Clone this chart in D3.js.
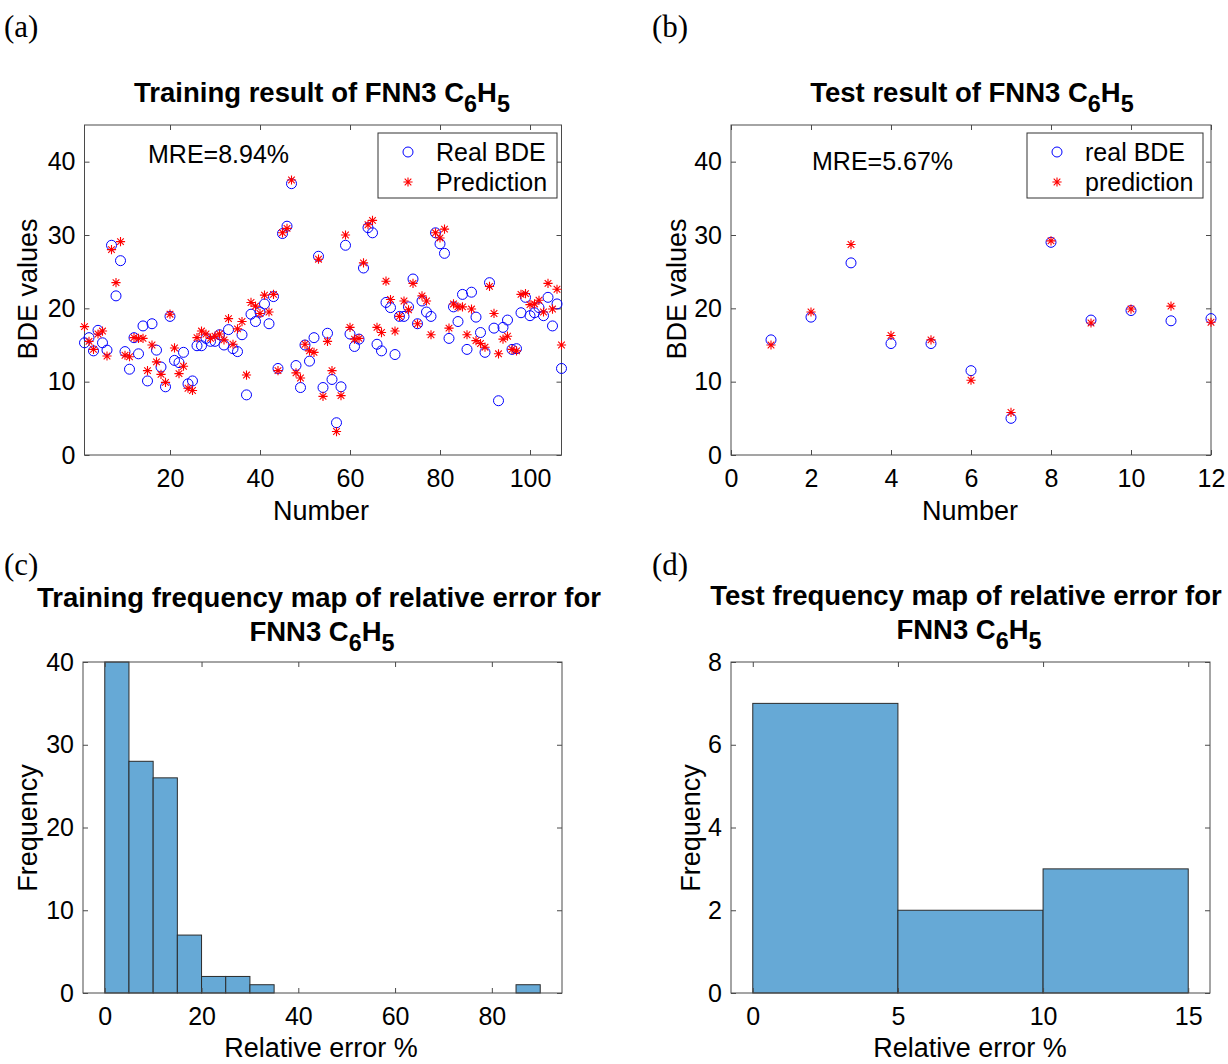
<!DOCTYPE html>
<html><head><meta charset="utf-8">
<script src="https://cdn.jsdelivr.net/npm/d3@7"></script>
<style>
body{margin:0;background:#fff;}
svg{display:block;}
text{font-family:"Liberation Sans",Arial,Helvetica,sans-serif;fill:#000;}
</style></head><body>
<svg id="chart" width="1228" height="1064"></svg>
<script>
// ---------------- data ----------------
const trainIndex = d3.range(1, 108);
const trainReal = [15.3,16.0,14.2,17.0,15.3,14.3,28.6,21.7,26.5,14.1,11.7,16.0,13.8,17.6,10.1,17.9,14.3,12.0,9.3,18.9,
  12.9,12.6,14.0,9.7,10.1,14.9,14.9,15.9,15.5,15.5,16.4,15.0,17.1,14.5,14.1,16.4,8.2,19.2,18.2,19.5,
  20.6,17.9,21.6,11.8,30.2,31.2,37.0,12.2,9.2,15.0,12.8,16.0,27.1,9.2,16.6,10.3,4.4,9.3,28.6,16.5,
  14.8,15.8,25.5,31.0,30.3,15.1,14.2,20.8,20.1,13.7,18.9,18.9,20.2,24.0,17.9,21.0,19.5,18.9,30.3,28.8,
  27.5,15.9,20.2,18.2,21.9,14.4,22.2,18.8,16.7,14.0,23.5,17.3,7.4,17.4,18.4,14.4,14.5,19.4,21.5,19.0,
  19.4,20.1,19.0,21.5,17.6,20.6,11.8];
const trainPred = [17.5,15.5,14.4,16.5,16.9,13.5,28.0,23.5,29.1,13.6,13.4,16.0,15.9,15.9,11.5,15.0,12.7,11.0,9.9,19.2,
  14.6,11.1,12.1,9.1,8.8,16.0,16.9,16.5,15.9,16.2,16.5,15.7,18.6,15.1,17.2,18.2,10.9,20.8,20.3,19.3,
  21.8,19.5,21.9,11.5,30.3,30.9,37.5,11.2,10.5,15.1,14.2,14.0,26.7,8.0,15.5,11.5,3.2,8.1,30.0,17.4,
  15.8,15.9,26.2,31.4,32.0,17.4,16.7,23.7,21.2,16.9,18.9,21.0,19.8,23.4,17.9,21.7,21.0,16.4,30.3,29.6,
  30.8,17.3,20.6,20.2,20.2,16.4,19.9,15.6,15.2,14.7,23.0,19.3,13.8,15.8,16.2,14.4,14.2,21.9,22.0,20.5,
  20.6,21.1,19.5,23.4,19.9,22.6,15.0];
const testIndex = d3.range(1, 13);
const testReal = [15.7,18.8,26.2,15.2,15.2,11.5,5.0,29.0,18.4,19.7,18.3,18.6];
const testPred = [15.0,19.5,28.7,16.3,15.7,10.2,5.8,29.2,18.0,19.9,20.3,18.1];

const trainBinEdges = d3.range(0, 95, 5);
const trainCounts = [40,28,26,7,2,2,1,0,0,0,0,0,0,0,0,0,0,1];
const testBinEdges = [0,5,10,15];
const testCounts = [7,2,3];

const ticksA_x = [20,40,60,80,100], ticksA_y = [0,10,20,30,40];
const ticksB_x = [0,2,4,6,8,10,12], ticksB_y = [0,10,20,30,40];
const ticksC_x = [0,20,40,60,80], ticksC_y = [0,10,20,30,40];
const ticksD_x = [0,5,10,15], ticksD_y = [0,2,4,6,8];

// ---------------- drawing ----------------
const svg = d3.select("#chart");
const axisCol = "#4a4a4a", tickTextCol = "#262626";
const TICK = 25, LABEL = 27, TITLE = 27.5;

function frame(x, y, xt, yt) {
  const [x0, x1] = x.range(), [y0, y1] = y.range();
  const g = svg.append("g");
  const ax = g.append("g").attr("transform", `translate(0,${y0})`)
    .call(d3.axisBottom(x).tickValues(xt).tickSizeInner(-5).tickSizeOuter(0).tickPadding(14).tickFormat(d3.format("d")));
  const ay = g.append("g").attr("transform", `translate(${x0},0)`)
    .call(d3.axisLeft(y).tickValues(yt).tickSizeInner(-5).tickSizeOuter(0).tickPadding(9).tickFormat(d3.format("d")));
  const at = g.append("g").attr("transform", `translate(0,${y1})`)
    .call(d3.axisTop(x).tickValues(xt).tickSizeInner(-5).tickSizeOuter(0).tickFormat(""));
  const ar = g.append("g").attr("transform", `translate(${x1},0)`)
    .call(d3.axisRight(y).tickValues(yt).tickSizeInner(-5).tickSizeOuter(0).tickFormat(""));
  [ax, ay, at, ar].forEach(a => {
    a.select(".domain").remove();
    a.selectAll("line").attr("stroke", axisCol);
    a.selectAll("text").attr("font-size", TICK).attr("fill", tickTextCol)
      .attr("font-family", '"Liberation Sans",Arial,sans-serif');
  });
  g.append("rect").attr("x", x0).attr("y", y1).attr("width", x1 - x0).attr("height", y0 - y1)
    .attr("fill", "none").attr("stroke", axisCol).attr("stroke-width", 1);
  return g;
}

function title(cx, y, parts, size) {
  const t = svg.append("text").attr("x", cx).attr("y", y).attr("text-anchor", "middle")
    .attr("font-weight", "bold").attr("font-size", size);
  let shifted = false;
  parts.forEach(p => {
    const sub = typeof p === "object";
    const s = t.append("tspan").text(sub ? p.sub : p);
    if (sub && !shifted) { s.attr("dy", 10).attr("font-size", size * 0.85); shifted = true; }
    else if (!sub && shifted) { s.attr("dy", -10); shifted = false; }
    else if (sub) { s.attr("font-size", size * 0.85); }
  });
}

function ylabel(x, y, txt) {
  svg.append("text").attr("transform", `translate(${x},${y}) rotate(-90)`).attr("text-anchor", "middle")
    .attr("font-size", LABEL).attr("fill", tickTextCol).text(txt);
}
function xlabel(x, y, txt) {
  svg.append("text").attr("x", x).attr("y", y).attr("text-anchor", "middle")
    .attr("font-size", LABEL).attr("fill", tickTextCol).text(txt);
}
function panelLabel(x, y, txt) {
  svg.append("text").attr("x", x).attr("y", y).attr("font-size", 31)
    .style("font-family", '"Liberation Serif","DejaVu Serif",serif').text(txt);
}

function starPath(s) {
  const a = s * 0.72;
  return `M${-s},0L${s},0M0,${-s}L0,${s}M${-a},${-a}L${a},${a}M${-a},${a}L${a},${-a}`;
}

function scatter(x, y, idx, real, pred) {
  const g = svg.append("g");
  g.selectAll("circle").data(idx).join("circle")
    .attr("cx", (d) => x(d)).attr("cy", (d, i) => y(real[i])).attr("r", 5)
    .attr("fill", "none").attr("stroke", "#0000ff").attr("stroke-width", 1);
  g.selectAll("path.star").data(idx).join("path").attr("class", "star")
    .attr("transform", (d, i) => `translate(${x(d)},${y(pred[i])})`)
    .attr("d", starPath(4.6)).attr("stroke", "#ff0000").attr("stroke-width", 1.1).attr("fill", "none");
}

function legend(x0, y0, w, h, labels) {
  const g = svg.append("g");
  g.append("rect").attr("x", x0).attr("y", y0).attr("width", w).attr("height", h)
    .attr("fill", "#fff").attr("stroke", "#333").attr("stroke-width", 1);
  g.append("circle").attr("cx", x0 + 30).attr("cy", y0 + 19).attr("r", 5)
    .attr("fill", "none").attr("stroke", "#0000ff");
  g.append("path").attr("transform", `translate(${x0 + 30},${y0 + 49})`).attr("d", starPath(4.6))
    .attr("stroke", "#ff0000").attr("stroke-width", 1.1);
  g.append("text").attr("x", x0 + 58).attr("y", y0 + 28).attr("font-size", 25).text(labels[0]);
  g.append("text").attr("x", x0 + 58).attr("y", y0 + 58).attr("font-size", 25).text(labels[1]);
}

function hist(x, y, edges, counts) {
  const bins = counts.map((c, i) => ({x0: edges[i], x1: edges[i + 1], c})).filter(b => b.c > 0);
  svg.append("g").selectAll("rect").data(bins).join("rect")
    .attr("x", d => x(d.x0)).attr("width", d => x(d.x1) - x(d.x0))
    .attr("y", d => y(d.c)).attr("height", d => y(0) - y(d.c))
    .attr("fill", "#66a9d6").attr("stroke", "#2b2b2b").attr("stroke-width", 1);
}

// Panel (a)
{
  const x = d3.scaleLinear().domain([1, 107]).range([84.5, 561.5]);
  const y = d3.scaleLinear().domain([0, 45]).range([455, 125]);
  frame(x, y, ticksA_x, ticksA_y);
  scatter(x, y, trainIndex, trainReal, trainPred);
  legend(378, 133, 179, 65, ["Real BDE", "Prediction"]);
  svg.append("text").attr("x", 148).attr("y", 163).attr("font-size", 25).text("MRE=8.94%");
  title(322, 102, ["Training result of FNN3 C", {sub: "6"}, "H", {sub: "5"}], TITLE);
  ylabel(37, 289, "BDE values");
  xlabel(321, 520, "Number");
  panelLabel(4, 37, "(a)");
}
// Panel (b)
{
  const x = d3.scaleLinear().domain([0, 12]).range([731, 1211]);
  const y = d3.scaleLinear().domain([0, 45]).range([455, 125]);
  frame(x, y, ticksB_x, ticksB_y);
  scatter(x, y, testIndex, testReal, testPred);
  legend(1027, 133, 176, 65, ["real BDE", "prediction"]);
  svg.append("text").attr("x", 812).attr("y", 170).attr("font-size", 25).text("MRE=5.67%");
  title(972, 102, ["Test result of FNN3 C", {sub: "6"}, "H", {sub: "5"}], TITLE);
  ylabel(686, 289, "BDE values");
  xlabel(970, 520, "Number");
  panelLabel(652, 37, "(b)");
}
// Panel (c)
{
  const x = d3.scaleLinear().domain([-4.5, 94.5]).range([83, 562]);
  const y = d3.scaleLinear().domain([0, 40]).range([993, 662]);
  hist(x, y, trainBinEdges, trainCounts);
  frame(x, y, ticksC_x, ticksC_y);
  svg.append("text").attr("x", 319).attr("y", 607).attr("text-anchor", "middle")
    .attr("font-weight", "bold").attr("font-size", TITLE).text("Training frequency map of relative error for");
  title(322, 641, ["FNN3 C", {sub: "6"}, "H", {sub: "5"}], TITLE);
  ylabel(37, 828, "Frequency");
  xlabel(321, 1057, "Relative error %");
  panelLabel(4, 575, "(c)");
}
// Panel (d)
{
  const x = d3.scaleLinear().domain([-0.75, 15.75]).range([731, 1210]);
  const y = d3.scaleLinear().domain([0, 8]).range([993, 662]);
  hist(x, y, testBinEdges, testCounts);
  frame(x, y, ticksD_x, ticksD_y);
  svg.append("text").attr("x", 966).attr("y", 605).attr("text-anchor", "middle")
    .attr("font-weight", "bold").attr("font-size", TITLE).text("Test frequency map of relative error for");
  title(969, 639, ["FNN3 C", {sub: "6"}, "H", {sub: "5"}], TITLE);
  ylabel(700, 828, "Frequency");
  xlabel(970, 1057, "Relative error %");
  panelLabel(652, 575, "(d)");
}
</script>
</body></html>
